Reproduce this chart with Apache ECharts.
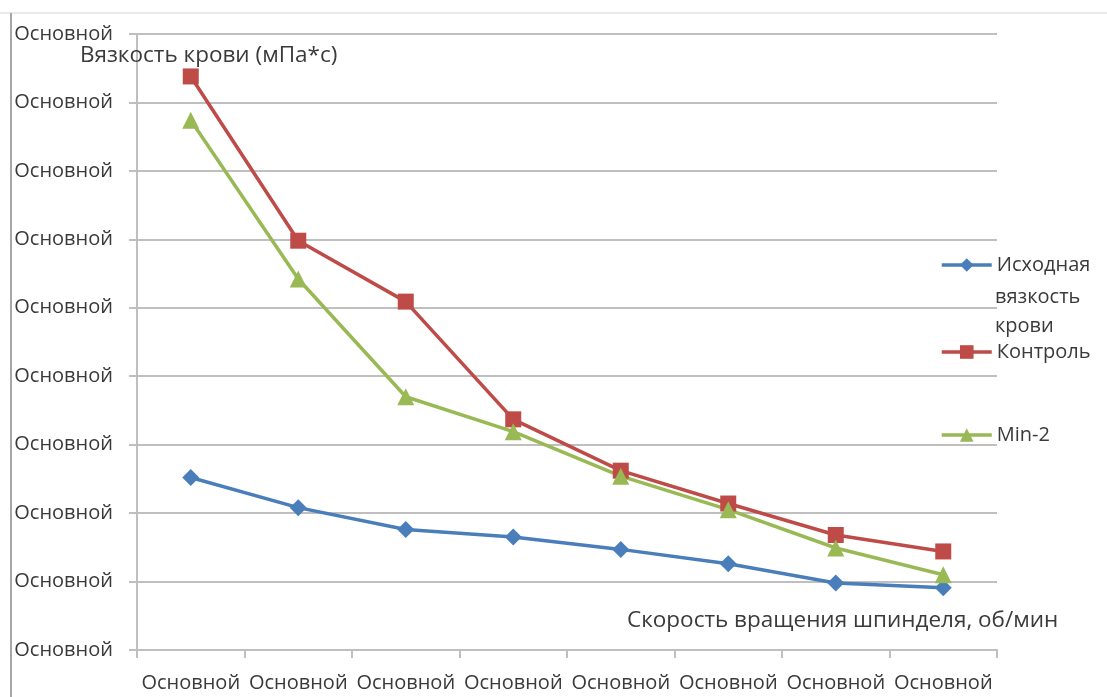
<!DOCTYPE html>
<html>
<head>
<meta charset="utf-8">
<script src="https://cdn.jsdelivr.net/npm/echarts@6/dist/echarts.min.js"></script>
<style>
  html, body { margin: 0; padding: 0; background: #ffffff; }
  #chart { width: 1107px; height: 697px; }
</style>
</head>
<body>
<div id="chart"></div>
<script>
// Spindle speed categories (labels are placeholders in the source workbook)
const categories = ['Основной', 'Основной', 'Основной', 'Основной', 'Основной', 'Основной', 'Основной', 'Основной'];
// Value-axis tick label (same placeholder on every tick)
const yTickLabel = 'Основной';

// Blood viscosity, mPa*s (in axis units)
const baseline = [2.52, 2.08, 1.76, 1.65, 1.47, 1.26, 0.98, 0.91];   // Исходная вязкость крови
const control  = [8.38, 5.98, 5.09, 3.37, 2.62, 2.14, 1.68, 1.44];   // Контроль
const min2     = [7.74, 5.42, 3.70, 3.19, 2.54, 2.05, 1.49, 1.10];   // Min-2

const textColor = '#3a3a3a';
const fontFamily = '"Open Sans", sans-serif';
const fontSize = 20;
const nameSize = 22.5;

const chart = echarts.init(document.getElementById('chart'));

function lineSeries(name, data, color, symbol, size) {
  return {
    name: name,
    type: 'line',
    data: data,
    symbol: symbol,
    symbolSize: size,
    lineStyle: { color: color, width: 3.5 },
    itemStyle: { color: color },
    emphasis: { disabled: true },
    animation: false
  };
}

const legendBase = {
  orient: 'vertical',
  left: 940,
  padding: 0,
  itemWidth: 50,
  itemHeight: 17,
  lineStyle: { width: 3.5 },
  textStyle: { color: textColor, fontFamily: fontFamily, fontSize: fontSize }
};

chart.setOption({
  animation: false,
  backgroundColor: '#ffffff',
  grid: { left: 137, right: 110, top: 34, bottom: 47, containLabel: false },
  title: [
    {
      text: 'Вязкость крови (мПа*с)',
      left: 80, top: 44, padding: 0,
      textStyle: { color: textColor, fontFamily: fontFamily, fontSize: nameSize, fontWeight: 'normal' }
    },
    {
      text: 'Скорость вращения шпинделя, об/мин',
      left: 627, top: 609, padding: 0,
      textStyle: { color: textColor, fontFamily: fontFamily, fontSize: nameSize, fontWeight: 'normal' }
    }
  ],
  legend: [
    Object.assign({}, legendBase, {
      top: 255,
      data: ['Исходная вязкость крови'],
      formatter: function () { return 'Исходная'; }
    }),
    Object.assign({}, legendBase, { top: 342, data: ['Контроль'] }),
    Object.assign({}, legendBase, { top: 425, data: ['Min-2'] })
  ],
  graphic: [
    // outer frame of the chart area
    { type: 'line', shape: { x1: 0, y1: 13, x2: 1107, y2: 13 }, style: { stroke: '#e3e3e3', lineWidth: 1.5 } },
    { type: 'line', shape: { x1: 11, y1: 13, x2: 11, y2: 697 }, style: { stroke: '#a6a6a6', lineWidth: 2 } },
    // continuation of the first legend entry
    {
      type: 'text', left: 995, top: 283,
      style: {
        text: 'вязкость\nкрови',
        fill: textColor, font: fontSize + 'px ' + fontFamily, lineHeight: 29
      }
    }
  ],
  xAxis: {
    type: 'category',
    data: categories,
    boundaryGap: true,
    axisLine: { show: true, lineStyle: { color: '#bfbfbf', width: 2 } },
    axisTick: { show: true, alignWithLabel: false, length: 8, lineStyle: { color: '#bfbfbf', width: 2 } },
    axisLabel: { color: textColor, fontFamily: fontFamily, fontSize: fontSize, margin: 23, interval: 0 },
    splitLine: { show: false }
  },
  yAxis: {
    type: 'value',
    min: 0, max: 9, interval: 1,
    axisLine: { show: true, lineStyle: { color: '#bfbfbf', width: 2 } },
    axisTick: { show: true, length: 8, lineStyle: { color: '#bfbfbf', width: 2 } },
    axisLabel: {
      color: textColor, fontFamily: fontFamily, fontSize: fontSize, margin: 24,
      formatter: function () { return yTickLabel; }
    },
    splitLine: { show: true, lineStyle: { color: '#bfbfbf', width: 2 } }
  },
  series: [
    lineSeries('Исходная вязкость крови', baseline, '#4a7ebb', 'diamond', 17),
    lineSeries('Контроль', control, '#be4b48', 'rect', 16),
    lineSeries('Min-2', min2, '#98b954', 'triangle', 17)
  ]
});
</script>
</body>
</html>
